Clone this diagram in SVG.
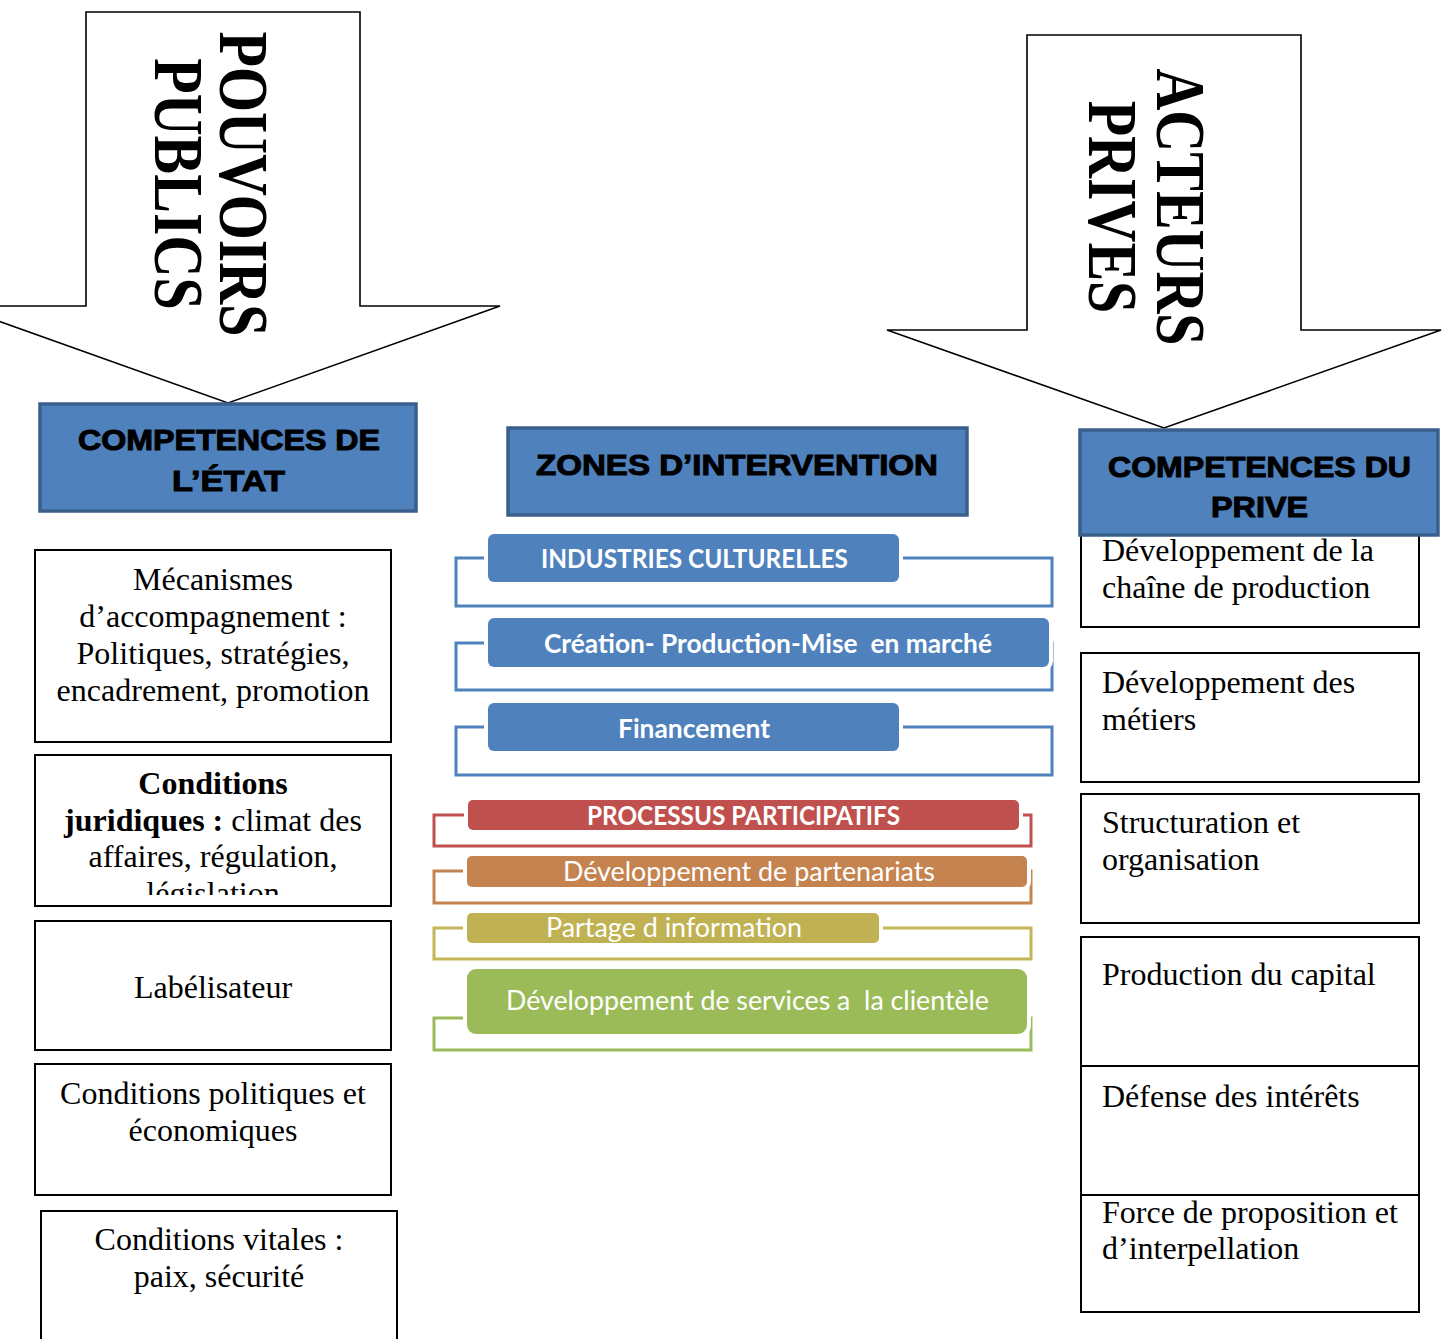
<svg xmlns="http://www.w3.org/2000/svg" width="1443" height="1339" viewBox="0 0 1443 1339">
<defs>
<style>
.arrow{fill:#fff;stroke:#000;stroke-width:1.6}
.big{font-family:"Liberation Serif","Times New Roman",serif;font-weight:bold;font-size:58px;fill:#000}
.head{fill:#4F81BD;stroke:#3A5F8C;stroke-width:3.5}
.ht{font-family:"Liberation Sans",Arial,sans-serif;font-weight:bold;font-size:29px;fill:#000;stroke:#000;stroke-width:1}
.box{fill:#fff;stroke:#000;stroke-width:2}
.bt{font-family:"Liberation Serif","Times New Roman",serif;font-size:32px;fill:#000}
.ct{font-family:Lato,"Open Sans",sans-serif;font-size:27px;fill:#fff;white-space:pre}
.b{font-weight:bold}
</style>
<clipPath id="clipJur"><rect x="35" y="755" width="356" height="140"/></clipPath>
</defs>

<g id="arrow-pouvoirs">
<polygon class="arrow" points="86,12 360,12 360,306 500,306 228,403 -44,306 86,306"/>
<text class="big" text-anchor="middle" transform="translate(220,184) rotate(90) scale(1,1.2)">POUVOIRS</text>
<text class="big" text-anchor="middle" transform="translate(155,184) rotate(90) scale(1,1.2)">PUBLICS</text>
</g>

<g id="arrow-acteurs">
<polygon class="arrow" points="1027,35 1301,35 1301,330 1441,330 1164,428 887,330 1027,330"/>
<text class="big" text-anchor="middle" transform="translate(1157,207) rotate(90) scale(1,1.2)">ACTEURS</text>
<text class="big" text-anchor="middle" transform="translate(1089,207) rotate(90) scale(1,1.2)">PRIVES</text>
</g>

<g id="head-etat">
<rect class="head" x="40" y="404" width="376" height="107"/>
<text class="ht" x="78" y="450" textLength="302" lengthAdjust="spacingAndGlyphs">COMPETENCES DE</text>
<text class="ht" x="172" y="491" textLength="113" lengthAdjust="spacingAndGlyphs">L’ÉTAT</text>
</g>

<g id="head-zones">
<rect class="head" x="508" y="428" width="459" height="87"/>
<text class="ht" x="536" y="475" textLength="402" lengthAdjust="spacingAndGlyphs">ZONES D’INTERVENTION</text>
</g>

<g id="box-prive-1">
<rect class="box" x="1081" y="520" width="338" height="107"/>
<text class="bt" x="1102" y="561">Développement de la</text>
<text class="bt" x="1102" y="598">chaîne de production</text>
</g>

<g id="head-prive">
<rect class="head" x="1080" y="430" width="358" height="105"/>
<text class="ht" x="1108" y="477" textLength="303" lengthAdjust="spacingAndGlyphs">COMPETENCES DU</text>
<text class="ht" x="1211" y="517" textLength="97" lengthAdjust="spacingAndGlyphs">PRIVE</text>
</g>

<g id="box-etat-1">
<rect class="box" x="35" y="550" width="356" height="192"/>
<text class="bt" text-anchor="middle" x="213" y="590">Mécanismes</text>
<text class="bt" text-anchor="middle" x="213" y="627">d’accompagnement :</text>
<text class="bt" text-anchor="middle" x="213" y="664">Politiques, stratégies,</text>
<text class="bt" text-anchor="middle" x="213" y="701">encadrement, promotion</text>
</g>

<g id="box-etat-2">
<rect class="box" x="35" y="755" width="356" height="151"/>
<g clip-path="url(#clipJur)">
<text class="bt b" text-anchor="middle" x="213" y="794">Conditions</text>
<text class="bt" text-anchor="middle" x="213" y="831"><tspan class="b">juridiques :</tspan> climat des</text>
<text class="bt" text-anchor="middle" x="213" y="867">affaires, régulation,</text>
<text class="bt" text-anchor="middle" x="213" y="904">législation</text>
</g>
</g>

<g id="box-etat-3">
<rect class="box" x="35" y="921" width="356" height="129"/>
<text class="bt" text-anchor="middle" x="213" y="998">Labélisateur</text>
</g>

<g id="box-etat-4">
<rect class="box" x="35" y="1064" width="356" height="131"/>
<text class="bt" text-anchor="middle" x="213" y="1104">Conditions politiques et</text>
<text class="bt" text-anchor="middle" x="213" y="1141">économiques</text>
</g>

<g id="box-etat-5">
<rect class="box" x="41" y="1211" width="356" height="140"/>
<text class="bt" text-anchor="middle" x="219" y="1250">Conditions vitales :</text>
<text class="bt" text-anchor="middle" x="219" y="1287">paix, sécurité</text>
</g>

<g id="box-prive-2">
<rect class="box" x="1081" y="653" width="338" height="129"/>
<text class="bt" x="1102" y="693">Développement des</text>
<text class="bt" x="1102" y="730">métiers</text>
</g>

<g id="box-prive-3">
<rect class="box" x="1081" y="794" width="338" height="129"/>
<text class="bt" x="1102" y="833">Structuration et</text>
<text class="bt" x="1102" y="870">organisation</text>
</g>

<g id="box-prive-4">
<rect class="box" x="1081" y="937" width="338" height="129"/>
<text class="bt" x="1102" y="985">Production du capital</text>
</g>

<g id="box-prive-5">
<rect class="box" x="1081" y="1066" width="338" height="129"/>
<text class="bt" x="1102" y="1107">Défense des intérêts</text>
</g>

<g id="box-prive-6">
<rect class="box" x="1081" y="1195" width="338" height="117"/>
<text class="bt" x="1102" y="1223">Force de proposition et</text>
<text class="bt" x="1102" y="1259">d’interpellation</text>
</g>

<g id="zone-industries">
<rect x="456" y="558" width="596" height="48" fill="none" stroke="#4F81BD" stroke-width="3"/>
<rect x="488" y="534" width="411" height="48" rx="6" fill="#4F81BD" stroke="#fff" stroke-width="8" paint-order="stroke"/>
<text class="ct b" x="541" y="568" textLength="307" lengthAdjust="spacingAndGlyphs">INDUSTRIES CULTURELLES</text>
</g>

<g id="zone-creation">
<rect x="456" y="643" width="596" height="47" fill="none" stroke="#4F81BD" stroke-width="3"/>
<rect x="488" y="618" width="561" height="49" rx="6" fill="#4F81BD" stroke="#fff" stroke-width="8" paint-order="stroke"/>
<text class="ct b" x="544" y="653" textLength="448" lengthAdjust="spacingAndGlyphs">Création- Production-Mise  en marché</text>
</g>

<g id="zone-financement">
<rect x="456" y="727" width="596" height="48" fill="none" stroke="#4F81BD" stroke-width="3"/>
<rect x="488" y="703" width="411" height="48" rx="6" fill="#4F81BD" stroke="#fff" stroke-width="8" paint-order="stroke"/>
<text class="ct b" x="618" y="738" textLength="152" lengthAdjust="spacingAndGlyphs">Financement</text>
</g>

<g id="zone-processus">
<rect x="434" y="815" width="597" height="31" fill="none" stroke="#C0504D" stroke-width="3"/>
<rect x="468" y="800" width="551" height="30" rx="5" fill="#C0504D" stroke="#fff" stroke-width="8" paint-order="stroke"/>
<text class="ct b" x="587" y="825" textLength="313" lengthAdjust="spacingAndGlyphs">PROCESSUS PARTICIPATIFS</text>
</g>

<g id="zone-partenariats">
<rect x="434" y="871" width="597" height="32" fill="none" stroke="#C5834F" stroke-width="3"/>
<rect x="467" y="856" width="560" height="31" rx="5" fill="#C5834F" stroke="#fff" stroke-width="8" paint-order="stroke"/>
<text class="ct" x="563" y="881" textLength="372" lengthAdjust="spacingAndGlyphs">Développement de partenariats</text>
</g>

<g id="zone-partage">
<rect x="434" y="928" width="597" height="31" fill="none" stroke="#C4B656" stroke-width="3"/>
<rect x="467" y="913" width="412" height="30" rx="5" fill="#C0B252" stroke="#fff" stroke-width="8" paint-order="stroke"/>
<text class="ct" x="546" y="937" textLength="256" lengthAdjust="spacingAndGlyphs">Partage d information</text>
</g>

<g id="zone-services">
<rect x="434" y="1018" width="597" height="32" fill="none" stroke="#9BBB59" stroke-width="3"/>
<rect x="467" y="969" width="560" height="65" rx="9" fill="#9BBB59" stroke="#fff" stroke-width="8" paint-order="stroke"/>
<text class="ct" x="506" y="1010" textLength="483" lengthAdjust="spacingAndGlyphs">Développement de services a  la clientèle</text>
</g>

<g id="connectors"></g>
</svg>
